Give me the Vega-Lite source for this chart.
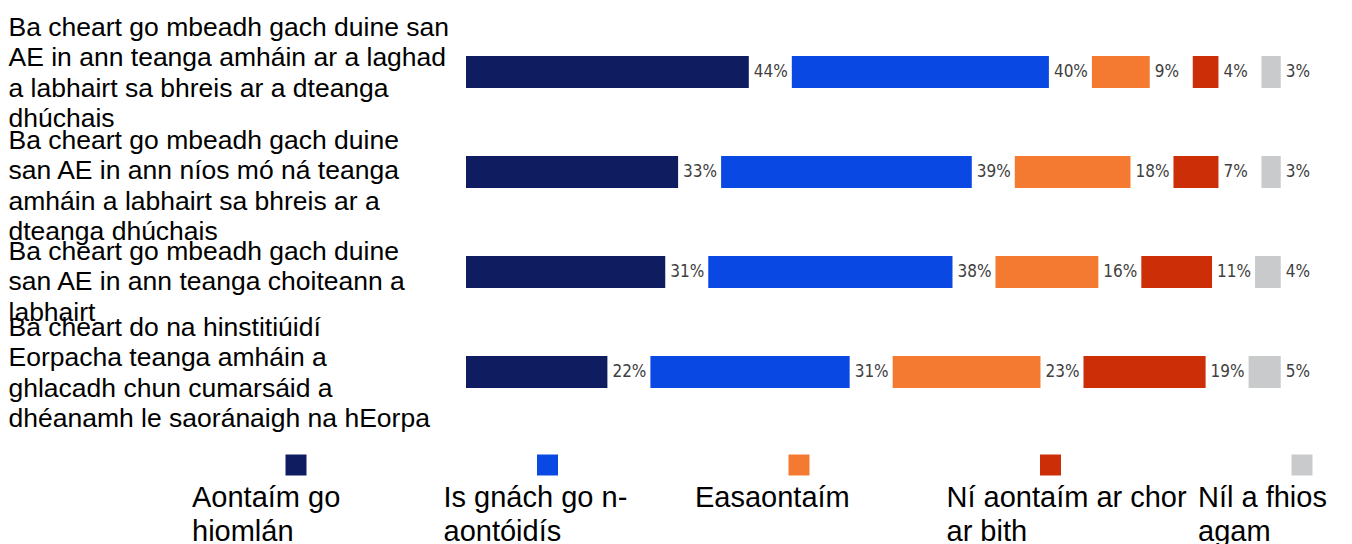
{
  "$schema": "https://vega.github.io/schema/vega-lite/v6.json",
  "background": "white",
  "padding": {"left": 8, "top": 14, "right": 0, "bottom": 0},
  "config": {"view": {"stroke": null}, "font": "Liberation Sans"},
  "datasets": {
    "survey": [
      {"question": "Ba cheart go mbeadh gach duine san|AE in ann teanga amháin ar a laghad|a labhairt sa bhreis ar a dteanga|dhúchais", "answer": "Aontaím go|hiomlán", "value": 0.44},
      {"question": "Ba cheart go mbeadh gach duine san|AE in ann teanga amháin ar a laghad|a labhairt sa bhreis ar a dteanga|dhúchais", "answer": "Is gnách go n-|aontóidís", "value": 0.40},
      {"question": "Ba cheart go mbeadh gach duine san|AE in ann teanga amháin ar a laghad|a labhairt sa bhreis ar a dteanga|dhúchais", "answer": "Easaontaím", "value": 0.09},
      {"question": "Ba cheart go mbeadh gach duine san|AE in ann teanga amháin ar a laghad|a labhairt sa bhreis ar a dteanga|dhúchais", "answer": "Ní aontaím ar chor|ar bith", "value": 0.04},
      {"question": "Ba cheart go mbeadh gach duine san|AE in ann teanga amháin ar a laghad|a labhairt sa bhreis ar a dteanga|dhúchais", "answer": "Níl a fhios|agam", "value": 0.03},
      {"question": "Ba cheart go mbeadh gach duine|san AE in ann níos mó ná teanga|amháin a labhairt sa bhreis ar a|dteanga dhúchais", "answer": "Aontaím go|hiomlán", "value": 0.33},
      {"question": "Ba cheart go mbeadh gach duine|san AE in ann níos mó ná teanga|amháin a labhairt sa bhreis ar a|dteanga dhúchais", "answer": "Is gnách go n-|aontóidís", "value": 0.39},
      {"question": "Ba cheart go mbeadh gach duine|san AE in ann níos mó ná teanga|amháin a labhairt sa bhreis ar a|dteanga dhúchais", "answer": "Easaontaím", "value": 0.18},
      {"question": "Ba cheart go mbeadh gach duine|san AE in ann níos mó ná teanga|amháin a labhairt sa bhreis ar a|dteanga dhúchais", "answer": "Ní aontaím ar chor|ar bith", "value": 0.07},
      {"question": "Ba cheart go mbeadh gach duine|san AE in ann níos mó ná teanga|amháin a labhairt sa bhreis ar a|dteanga dhúchais", "answer": "Níl a fhios|agam", "value": 0.03},
      {"question": "Ba cheart go mbeadh gach duine|san AE in ann teanga choiteann a|labhairt", "answer": "Aontaím go|hiomlán", "value": 0.31},
      {"question": "Ba cheart go mbeadh gach duine|san AE in ann teanga choiteann a|labhairt", "answer": "Is gnách go n-|aontóidís", "value": 0.38},
      {"question": "Ba cheart go mbeadh gach duine|san AE in ann teanga choiteann a|labhairt", "answer": "Easaontaím", "value": 0.16},
      {"question": "Ba cheart go mbeadh gach duine|san AE in ann teanga choiteann a|labhairt", "answer": "Ní aontaím ar chor|ar bith", "value": 0.11},
      {"question": "Ba cheart go mbeadh gach duine|san AE in ann teanga choiteann a|labhairt", "answer": "Níl a fhios|agam", "value": 0.04},
      {"question": "Ba cheart do na hinstitiúidí|Eorpacha teanga amháin a|ghlacadh chun cumarsáid a|dhéanamh le saoránaigh na hEorpa", "answer": "Aontaím go|hiomlán", "value": 0.22},
      {"question": "Ba cheart do na hinstitiúidí|Eorpacha teanga amháin a|ghlacadh chun cumarsáid a|dhéanamh le saoránaigh na hEorpa", "answer": "Is gnách go n-|aontóidís", "value": 0.31},
      {"question": "Ba cheart do na hinstitiúidí|Eorpacha teanga amháin a|ghlacadh chun cumarsáid a|dhéanamh le saoránaigh na hEorpa", "answer": "Easaontaím", "value": 0.23},
      {"question": "Ba cheart do na hinstitiúidí|Eorpacha teanga amháin a|ghlacadh chun cumarsáid a|dhéanamh le saoránaigh na hEorpa", "answer": "Ní aontaím ar chor|ar bith", "value": 0.19},
      {"question": "Ba cheart do na hinstitiúidí|Eorpacha teanga amháin a|ghlacadh chun cumarsáid a|dhéanamh le saoránaigh na hEorpa", "answer": "Níl a fhios|agam", "value": 0.05}
    ]
  },
  "spacing": 22,
  "resolve": {"scale": {"x": "independent", "y": "independent", "color": "shared"}},
  "vconcat": [
    {
      "width": 815,
      "height": 400,
      "data": {"name": "survey"},
      "transform": [
        {"window": [{"op": "sum", "field": "value", "as": "cum"}, {"op": "row_number", "as": "idx"}], "groupby": ["question"], "frame": [null, 0]},
        {"calculate": "datum.cum - datum.value + (datum.idx - 1) * 0.0669", "as": "xstart"},
        {"calculate": "datum.cum + (datum.idx - 1) * 0.0669", "as": "xend"}
      ],
      "encoding": {
        "y": {
          "field": "question",
          "type": "nominal",
          "sort": null,
          "scale": {"paddingInner": 0.68, "paddingOuter": 0.34},
          "axis": {
            "title": null,
            "domain": false,
            "ticks": false,
            "labelAlign": "left",
            "labelBaseline": "middle",
            "labelPadding": 458,
            "labelLimit": 0,
            "labelFont": "Liberation Sans",
            "labelFontSize": 26.5,
            "labelLineHeight": 30.3,
            "labelColor": "#000000",
            "labelExpr": "split(datum.label, '|')",
            "labelOffset": {
              "condition": [
                {"test": "indexof(datum.value, 'níos') >= 0", "value": -31},
                {"test": "indexof(datum.value, 'choiteann') >= 0", "value": -20}
              ],
              "value": -44
            }
          }
        }
      },
      "layer": [
        {
          "mark": {"type": "bar"},
          "encoding": {
            "x": {"field": "xstart", "type": "quantitative", "scale": {"domain": [0, 1.268], "nice": false, "zero": false}, "axis": null},
            "x2": {"field": "xend"},
            "color": {
              "field": "answer",
              "type": "nominal",
              "scale": {
                "domain": ["Aontaím go|hiomlán", "Is gnách go n-|aontóidís", "Easaontaím", "Ní aontaím ar chor|ar bith", "Níl a fhios|agam"],
                "range": ["#101c60", "#0a48e3", "#f47a32", "#cc2e08", "#c9cacc"]
              },
              "legend": null
            }
          }
        },
        {
          "mark": {"type": "text", "align": "left", "baseline": "middle", "dx": 5, "font": "Liberation Sans Narrow, Arial Narrow, DejaVu Sans Condensed, sans-serif", "fontSize": 17, "fill": "#404040"},
          "encoding": {
            "x": {"field": "xend", "type": "quantitative"},
            "text": {"field": "value", "format": ".0%"}
          }
        }
      ]
    },
    {
      "width": 815,
      "height": 22,
      "data": {"name": "survey"},
      "transform": [
        {"aggregate": [{"op": "count", "as": "n"}], "groupby": ["answer"]}
      ],
      "encoding": {
        "x": {
          "field": "answer",
          "type": "nominal",
          "scale": {
            "type": "point",
            "padding": 0,
            "domain": ["Aontaím go|hiomlán", "Is gnách go n-|aontóidís", "Easaontaím", "Ní aontaím ar chor|ar bith", "Níl a fhios|agam"],
            "range": [-170, 836]
          },
          "axis": null
        }
      },
      "layer": [
        {
          "mark": {"type": "square", "size": 441, "opacity": 1, "filled": true},
          "encoding": {
            "color": {"field": "answer", "type": "nominal", "legend": null}
          }
        },
        {
          "mark": {"type": "text", "align": "left", "baseline": "alphabetic", "dx": -104, "dy": 42, "font": "Liberation Sans", "fontSize": 29, "lineHeight": 34, "lineBreak": "|", "fill": "#000000"},
          "encoding": {
            "text": {"field": "answer"}
          }
        }
      ]
    }
  ]
}
